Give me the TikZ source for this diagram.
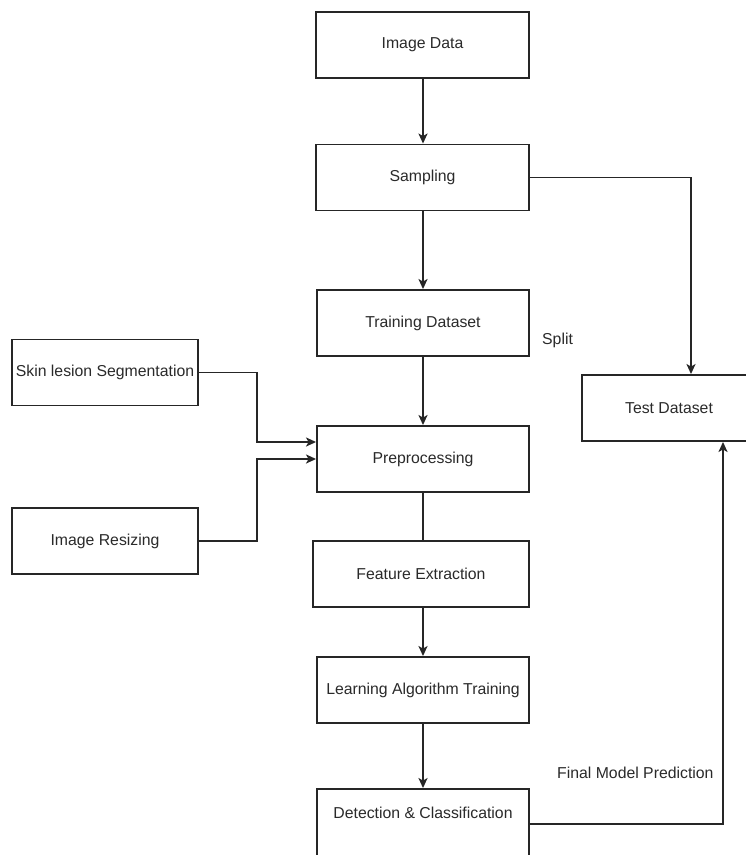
\documentclass[tikz,border=0pt]{standalone}
\usepackage{fontspec}
\setmainfont{Liberation Sans}
\usetikzlibrary{arrows.meta}
\definecolor{linec}{HTML}{262626}
\definecolor{textc}{HTML}{2A2A2A}
\begin{document}
\begin{tikzpicture}[x=1pt,y=-1pt,
  box/.style={draw=linec, line width=1.9pt, minimum width=212pt, minimum height=66pt,
    inner sep=0pt, text=textc, font=\fontsize{15.8}{18}\selectfont},
  lbl/.style={inner sep=0pt, text=textc, font=\fontsize{15.8}{18}\selectfont},
  conn/.style={draw=linec, line width=1.8pt},
  arr/.style={conn, -{Stealth[length=10pt, width=9pt, inset=2.5pt]}}]
  \clip (0,0) rectangle (746,855);
  \fill[white] (0,0) rectangle (746,855);

  % main column
  \node[box, minimum width=213pt] (img)  at (422.5,45)  {Image Data};
  \node[box, minimum width=213pt] (samp) at (422.5,177.5) {Sampling};
  \node[box] (train) at (423,323) {Training Dataset};
  \node[box] (prep) at (423,459) {Preprocessing};
  \node[box, minimum width=216pt] (feat) at (421,574) {Feature Extraction};
  \node[box] (learn) at (423,690) {Learning Algorithm Training};
  \node[box, minimum height=70pt, text height=11.5pt, text depth=22pt] (det) at (423,824) {Detection \& Classification};

  % side boxes
  \node[box, minimum width=186pt] (seg) at (105,372.5) {Skin lesion Segmentation};
  \node[box, minimum width=186pt] (res) at (105,541) {Image Resizing};
  \node[box, minimum width=174pt] (test) at (669,408) {Test Dataset};

  % free labels
  \node[lbl, anchor=west] (split) at (542,340) {Split};
  \node[lbl, anchor=west] (fmp) at (557,773) {Final Model Prediction};

  % helper coordinates for the bends and the vertical spine
  \coordinate (lx) at (257,0);
  \coordinate (cx) at (691,0);
  \coordinate (cy) at (723,0);
  \coordinate (mx) at (423,0);
  \coordinate (p1) at ([yshift=17pt]prep.west);

  % connectors of the main column, all on one vertical line
  \draw[arr] (img.south -| mx) -- (samp.north -| mx);
  \draw[arr] (samp.south -| mx) -- (train.north);
  \draw[arr] (train) -- (prep);
  \draw[conn] (prep.south) -- (feat.north -| mx);
  \draw[arr] (feat.south -| mx) -- (learn.north);
  \draw[arr] (learn) -- (det);

  % split into the test set
  \draw[arr] (samp.east) -| (test.north -| cx);

  % preprocessing inputs
  \draw[arr] (seg.east) -| (lx |- p1) -- (p1);
  \draw[arr] (res.east) -| (lx |- prep.west) -- (prep.west);

  % final prediction on the test set
  \draw[arr] (det.east) -| (test.south -| cy);
\end{tikzpicture}
\end{document}
